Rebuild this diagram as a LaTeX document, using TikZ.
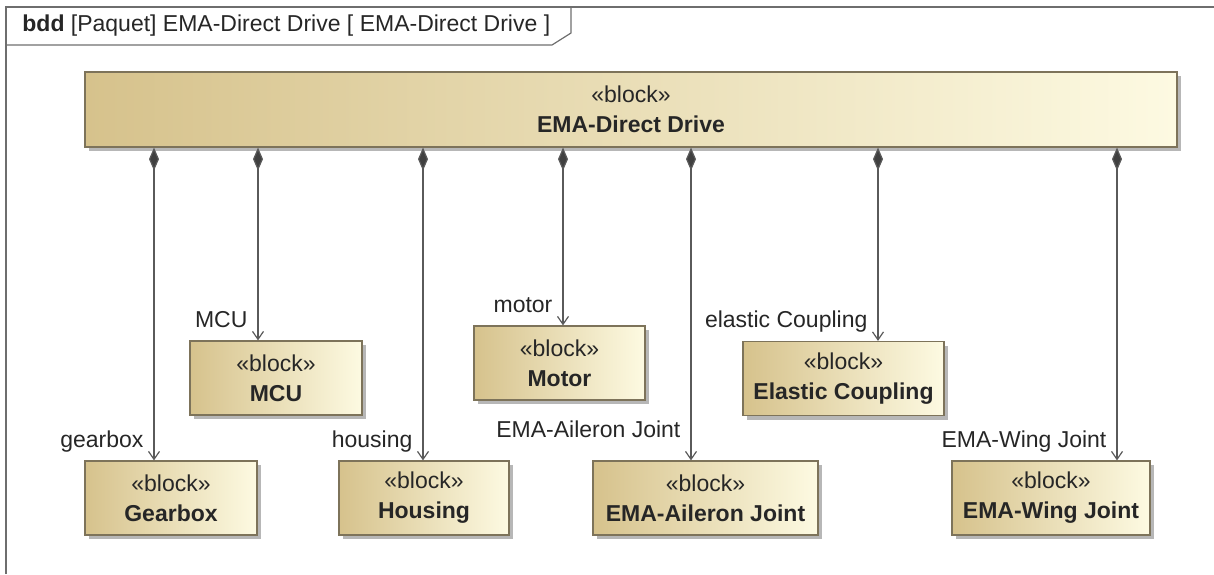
\documentclass[tikz,border=0pt]{standalone}
\usepackage{fontspec}
\setmainfont{Liberation Sans}
\usetikzlibrary{arrows.meta,shadows}
\definecolor{blockleft}{RGB}{214,194,140}
\definecolor{blockright}{RGB}{253,250,226}
\definecolor{blockline}{RGB}{125,115,90}
\definecolor{connline}{RGB}{90,90,90}
\definecolor{frameline}{RGB}{110,110,110}

\begin{document}
\begin{tikzpicture}[
    x=0.5pt, y=-0.5pt,
    every node/.style={font=\fontsize{11.5}{15}\selectfont, text=black!85},
    blockbox/.style={draw=blockline, line width=0.6pt, align=center, inner sep=0pt,
      left color=blockleft, right color=blockright, minimum height=37pt,
      drop shadow={shadow xshift=2pt, shadow yshift=-2pt, fill=black!40, opacity=0.7}},
    composition/.style={draw=connline, line width=0.6pt,
      {Diamond[length=11.5pt, width=5pt, fill=black!75]}-{Straight Barb[length=4pt, width=5.5pt]}},
    rolename/.style={anchor=base east, inner sep=0pt, xshift=-5pt, yshift=6.5pt},
    ]
    \useasboundingbox (0,0) rectangle (1214,574);

    % Frame and header tab
    \draw[frameline, line width=0.6pt] (6,574) -- (6,7) -- (1214,7);
    \draw[frameline, line width=0.6pt] (6,45) -- (552,45) -- (571,33) -- (571,7);
    \node[anchor=west, inner sep=0pt] (header) at (22,26) {\textbf{bdd} [Paquet] EMA-Direct Drive [ EMA-Direct Drive ]};

    % Row 1: Whole
    \node[blockbox, minimum width=546pt, minimum height=37.5pt] (drive) at (631,109.5) {«block»\\\textbf{EMA-Direct Drive}};

    % Row 2: Parts
    \node[blockbox, minimum width=86pt] (mcu) at (276,378) {«block»\\\textbf{MCU}};
    \node[blockbox, minimum width=85.5pt] (motor) at (559.5,363) {«block»\\\textbf{Motor}};
    \node[blockbox, minimum width=100.5pt] (coupling) at (843.5,378.5) {«block»\\\textbf{Elastic Coupling}};

    % Row 3: Parts
    \node[blockbox, minimum width=86pt] (gearbox) at (171,498) {«block»\\\textbf{Gearbox}};
    \node[blockbox, minimum width=85pt] (housing) at (424,498) {«block»\\\textbf{Housing}};
    \node[blockbox, minimum width=112.5pt] (aileron) at (705.5,498) {«block»\\\textbf{EMA-Aileron Joint}};
    \node[blockbox, minimum width=99pt] (wing) at (1051,498) {«block»\\\textbf{EMA-Wing Joint}};

    % Connector columns
    \coordinate (xgearbox) at (154,0);
    \coordinate (xmcu) at (258,0);
    \coordinate (xhousing) at (423,0);
    \coordinate (xmotor) at (563,0);
    \coordinate (xaileron) at (691,0);
    \coordinate (xcoupling) at (878,0);
    \coordinate (xwing) at (1117,0);

    % Edges
    \draw[composition] (drive.south -| xgearbox) -- (gearbox.north -| xgearbox) node[rolename] {gearbox};
    \draw[composition] (drive.south -| xmcu) -- (mcu.north -| xmcu) node[rolename] {MCU};
    \draw[composition] (drive.south -| xhousing) -- (housing.north -| xhousing) node[rolename] {housing};
    \draw[composition] (drive.south -| xmotor) -- (motor.north -| xmotor) node[rolename] {motor};
    \draw[composition] (drive.south -| xaileron) -- (aileron.north -| xaileron) node[rolename, yshift=5pt] {EMA-Aileron Joint};
    \draw[composition] (drive.south -| xcoupling) -- (coupling.north -| xcoupling) node[rolename] {elastic Coupling};
    \draw[composition] (drive.south -| xwing) -- (wing.north -| xwing) node[rolename] {EMA-Wing Joint};
  \end{tikzpicture}
\end{document}
